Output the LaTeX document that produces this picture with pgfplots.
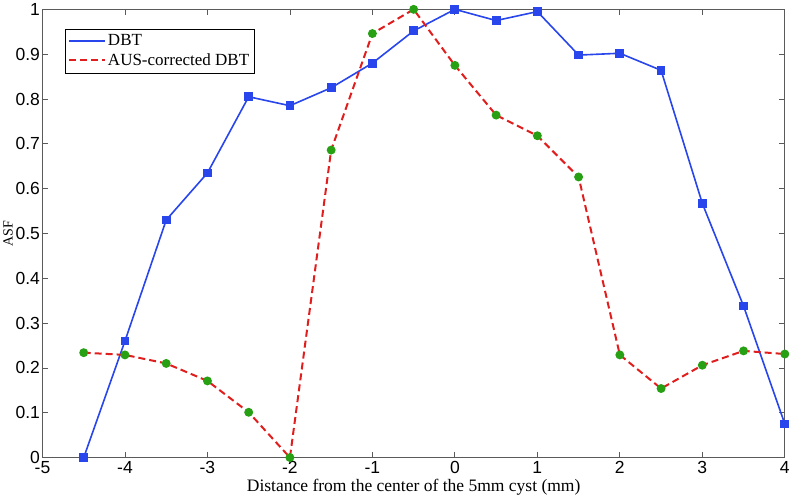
\documentclass[border=0pt]{standalone}
\usepackage{fontspec}
\setmainfont{Liberation Serif}
\setsansfont{Liberation Sans}
\usepackage{pgfplots}
\pgfplotsset{compat=1.18}
\definecolor{dbtblue}{RGB}{40,70,235}
\definecolor{ausred}{RGB}{225,30,30}
\definecolor{dotgreen}{RGB}{40,160,20}
\definecolor{axgray}{RGB}{90,90,90}
\begin{document}
\begin{tikzpicture}
\begin{axis}[
  scale only axis,
  width=742pt, height=448pt,
  xmin=-5, xmax=4, ymin=0, ymax=1,
  xtick={-5,-4,...,4},
  ytick={0,0.1,...,1.0},
  yticklabels={0,0.1,0.2,0.3,0.4,0.5,0.6,0.7,0.8,0.9,1},
  tick align=inside,
  major tick length=6pt,
  axis line style={axgray, line width=1pt},
  tick style={axgray, line width=0.8pt},
  ticklabel style={font=\sffamily\fontsize{17.5}{19}\selectfont},
  /pgf/number format/assume math mode=true,
  xticklabel style={yshift=0pt},
  yticklabel style={xshift=1pt},
  xlabel={Distance from the center of the 5mm cyst (mm)},
  ylabel={ASF},
  xlabel style={font=\fontsize{17.5}{19}\selectfont, at={(axis description cs:0.5,0)}, anchor=north, inner sep=0pt, yshift=-21pt},
  ylabel style={font=\fontsize{14}{16}\selectfont, yshift=-4pt},
  legend style={at={(0.03,0.957)}, anchor=north west,
    font=\fontsize{17}{20}\selectfont, inner xsep=3pt, inner ysep=4pt, row sep=2pt},
  legend cell align=left,
]
\addlegendimage{dbtblue, line width=1.6pt, mark=none, legend image code/.code={\draw[dbtblue, line width=1.6pt] (0pt,0pt) -- (36pt,0pt);}}
\addlegendentry{DBT}
\addlegendimage{ausred, line width=2pt, mark=none, legend image code/.code={\draw[ausred, line width=2pt, dash pattern=on 7pt off 4pt] (0pt,0pt) -- (36pt,0pt);}}
\addlegendentry{AUS-corrected DBT}
\addplot[forget plot, dbtblue, line width=1.6pt, mark=square*, mark size=3.6pt,
  mark options={solid, fill=dbtblue, draw=dbtblue}] coordinates {
(-4.5,0) (-4,0.26) (-3.5,0.53) (-3,0.635) (-2.5,0.805) (-2,0.785) (-1.5,0.825)
(-1,0.88) (-0.5,0.952) (0,1.0) (0.5,0.975) (1,0.995) (1.5,0.898) (2,0.902)
(2.5,0.864) (3,0.567) (3.5,0.338) (4,0.075)};
\addplot[forget plot, ausred, line width=2pt, dash pattern=on 7pt off 4pt, mark=*, mark size=3.4pt,
  mark options={solid, fill=dotgreen, draw=dotgreen}] coordinates {
(-4.5,0.234) (-4,0.229) (-3.5,0.21) (-3,0.171) (-2.5,0.101) (-2,0) (-1.5,0.686)
(-1,0.946) (-0.5,1.0) (0,0.875) (0.5,0.764) (1,0.718) (1.5,0.626) (2,0.229)
(2.5,0.154) (3,0.206) (3.5,0.238) (4,0.231)};
\end{axis}
\end{tikzpicture}
\end{document}
